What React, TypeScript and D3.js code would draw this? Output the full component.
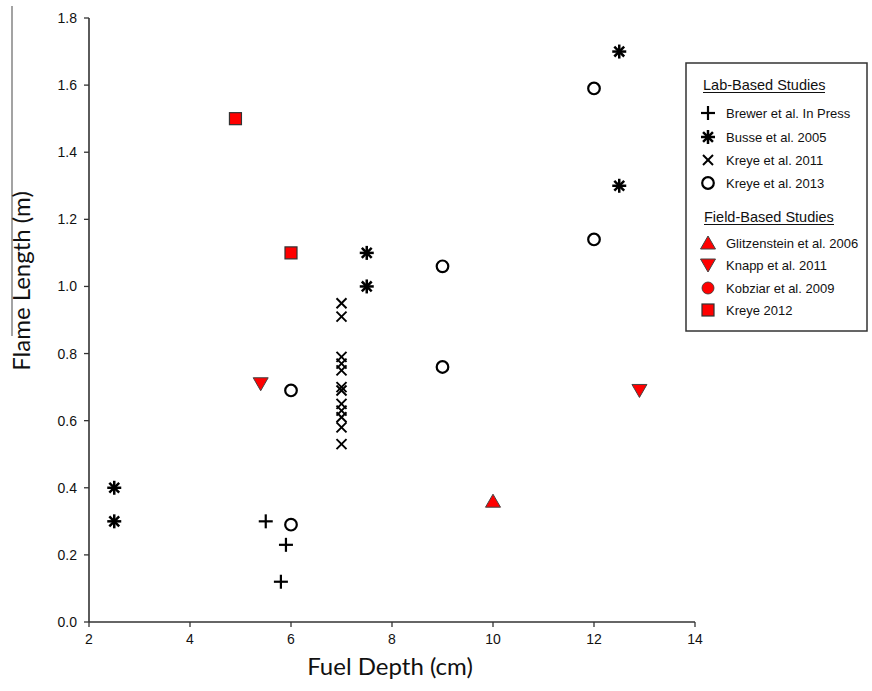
import React from "react";
import * as d3 from "d3";

const brewerX = [5.5, 5.9, 5.8];
const brewerY = [0.30, 0.23, 0.12];
const busseX = [2.5, 2.5, 7.5, 7.5, 12.5, 12.5];
const busseY = [0.40, 0.30, 1.10, 1.00, 1.70, 1.30];
const kreye2011X = [7, 7, 7, 7, 7, 7, 7, 7, 7, 7, 7, 7];
const kreye2011Y = [0.95, 0.91, 0.79, 0.77, 0.75, 0.70, 0.69, 0.65, 0.63, 0.61, 0.58, 0.53];
const kreye2013X = [6, 6, 9, 9, 12, 12];
const kreye2013Y = [0.69, 0.29, 1.06, 0.76, 1.59, 1.14];
const glitzX = [10];
const glitzY = [0.36];
const knappX = [5.4, 12.9];
const knappY = [0.71, 0.69];
const kobziarX: number[] = [];
const kobziarY: number[] = [];
const kreye2012X = [4.9, 6.0];
const kreye2012Y = [1.50, 1.10];

const xTicks = [2, 4, 6, 8, 10, 12, 14];
const yTicks = [0, 0.2, 0.4, 0.6, 0.8, 1.0, 1.2, 1.4, 1.6, 1.8];

const labSeries = [
  { name: "Brewer et al. In Press", shape: "plus", xs: brewerX, ys: brewerY },
  { name: "Busse et al. 2005", shape: "asterisk", xs: busseX, ys: busseY },
  { name: "Kreye et al. 2011", shape: "cross", xs: kreye2011X, ys: kreye2011Y },
  { name: "Kreye et al. 2013", shape: "circle", xs: kreye2013X, ys: kreye2013Y },
];
const fieldSeries = [
  { name: "Glitzenstein et al. 2006", shape: "triUp", xs: glitzX, ys: glitzY },
  { name: "Knapp et al. 2011", shape: "triDown", xs: knappX, ys: knappY },
  { name: "Kobziar et al. 2009", shape: "dot", xs: kobziarX, ys: kobziarY },
  { name: "Kreye 2012", shape: "square", xs: kreye2012X, ys: kreye2012Y },
];

function Marker({ shape, x, y }: { shape: string; x: number; y: number }) {
  const t = `translate(${x},${y})`;
  switch (shape) {
    case "plus":
      return (
        <g transform={t} stroke="#000" strokeWidth={2.2}>
          <line x1={-7} x2={7} y1={0} y2={0} />
          <line x1={0} x2={0} y1={-7} y2={7} />
        </g>
      );
    case "asterisk":
      return (
        <g transform={t} stroke="#000" strokeWidth={2.5}>
          {[0, 45, 90, 135].map((a) => (
            <line key={a} x1={-7} x2={7} y1={0} y2={0} transform={`rotate(${a})`} />
          ))}
        </g>
      );
    case "cross":
      return (
        <g transform={t} stroke="#000" strokeWidth={2}>
          <line x1={-5} x2={5} y1={-5} y2={5} />
          <line x1={-5} x2={5} y1={5} y2={-5} />
        </g>
      );
    case "circle":
      return <circle cx={x} cy={y} r={5.8} fill="#fff" stroke="#000" strokeWidth={2.2} />;
    case "dot":
      return <circle cx={x} cy={y} r={6} fill="#ff0000" stroke="#333" strokeWidth={0.8} />;
    case "triUp":
      return <path transform={t} d="M0,-7 L7.5,6 L-7.5,6 Z" fill="#ff0000" stroke="#444" strokeWidth={1} />;
    case "triDown":
      return <path transform={t} d="M0,7 L7.5,-6 L-7.5,-6 Z" fill="#ff0000" stroke="#444" strokeWidth={1} />;
    case "square":
      return <rect x={x - 6} y={y - 6} width={12} height={12} fill="#ff0000" stroke="#333" strokeWidth={1.2} />;
    default:
      return null;
  }
}

export default function App() {
  const W = 872;
  const H = 691;
  const x = d3.scaleLinear().domain([2, 14]).range([89, 695]);
  const y = d3.scaleLinear().domain([0, 1.8]).range([622, 18]);
  const all = [...labSeries, ...fieldSeries];
  const tickFont = "'Liberation Sans', Arial, sans-serif";
  const titleFont = "Lato, 'Open Sans', sans-serif";

  const legX = 708;
  const legTextX = 726;
  const labRows = [113, 137, 160, 183];
  const fieldRows = [243, 265, 288, 310];

  return (
    <svg width={W} height={H} style={{ position: "absolute", left: 0, top: 0, background: "#fff" }}>
      <rect x={0} y={0} width={W} height={H} fill="#fff" />
      {/* stray line */}
      <line x1={12} x2={12} y1={6} y2={336} stroke="#666" strokeWidth={1.2} />

      {/* axes */}
      <line x1={89} x2={89} y1={y(1.8)} y2={y(0)} stroke="#333" strokeWidth={1.6} />
      <line x1={x(2)} x2={x(14)} y1={622} y2={622} stroke="#333" strokeWidth={1.6} />
      {yTicks.map((v) => (
        <g key={"y" + v}>
          <line x1={84} x2={89} y1={y(v)} y2={y(v)} stroke="#333" strokeWidth={1.3} />
          <text x={77} y={y(v)} dy="0.36em" textAnchor="end" fontFamily={tickFont} fontSize={14} fill="#111">
            {v.toFixed(1)}
          </text>
        </g>
      ))}
      {xTicks.map((v) => (
        <g key={"x" + v}>
          <line x1={x(v)} x2={x(v)} y1={622} y2={627} stroke="#333" strokeWidth={1.3} />
          <text x={x(v)} y={644} textAnchor="middle" fontFamily={tickFont} fontSize={14} fill="#111">
            {v}
          </text>
        </g>
      ))}

      <text x={390} y={675} textAnchor="middle" fontFamily={titleFont} fontSize={24} fill="#111">
        Fuel Depth (cm)
      </text>
      <text
        transform="translate(30,281) rotate(-90)"
        textAnchor="middle"
        fontFamily={titleFont}
        fontSize={24}
        fill="#111"
      >
        Flame Length (m)
      </text>

      {/* data */}
      {all.map((s) =>
        s.xs.map((xv, i) => <Marker key={s.name + i} shape={s.shape} x={x(xv)} y={y(s.ys[i])} />)
      )}

      {/* legend */}
      <rect x={686} y={63} width={181} height={268} fill="#fff" stroke="#333" strokeWidth={1.5} />
      <text x={703} y={90} fontFamily={tickFont} fontSize={14.5} fill="#111">
        Lab-Based Studies
      </text>
      <line x1={703} x2={825} y1={92.5} y2={92.5} stroke="#111" strokeWidth={1} />
      {labSeries.map((s, i) => (
        <g key={s.name}>
          <Marker shape={s.shape} x={legX} y={labRows[i]} />
          <text x={legTextX} y={labRows[i]} dy="0.35em" fontFamily={tickFont} fontSize={13} fill="#111">
            {s.name}
          </text>
        </g>
      ))}
      <text x={704} y={222} fontFamily={tickFont} fontSize={14.5} fill="#111">
        Field-Based Studies
      </text>
      <line x1={704} x2={834} y1={224.5} y2={224.5} stroke="#111" strokeWidth={1} />
      {fieldSeries.map((s, i) => (
        <g key={s.name}>
          <Marker shape={s.shape} x={legX} y={fieldRows[i]} />
          <text x={legTextX} y={fieldRows[i]} dy="0.35em" fontFamily={tickFont} fontSize={13} fill="#111">
            {s.name}
          </text>
        </g>
      ))}
    </svg>
  );
}
